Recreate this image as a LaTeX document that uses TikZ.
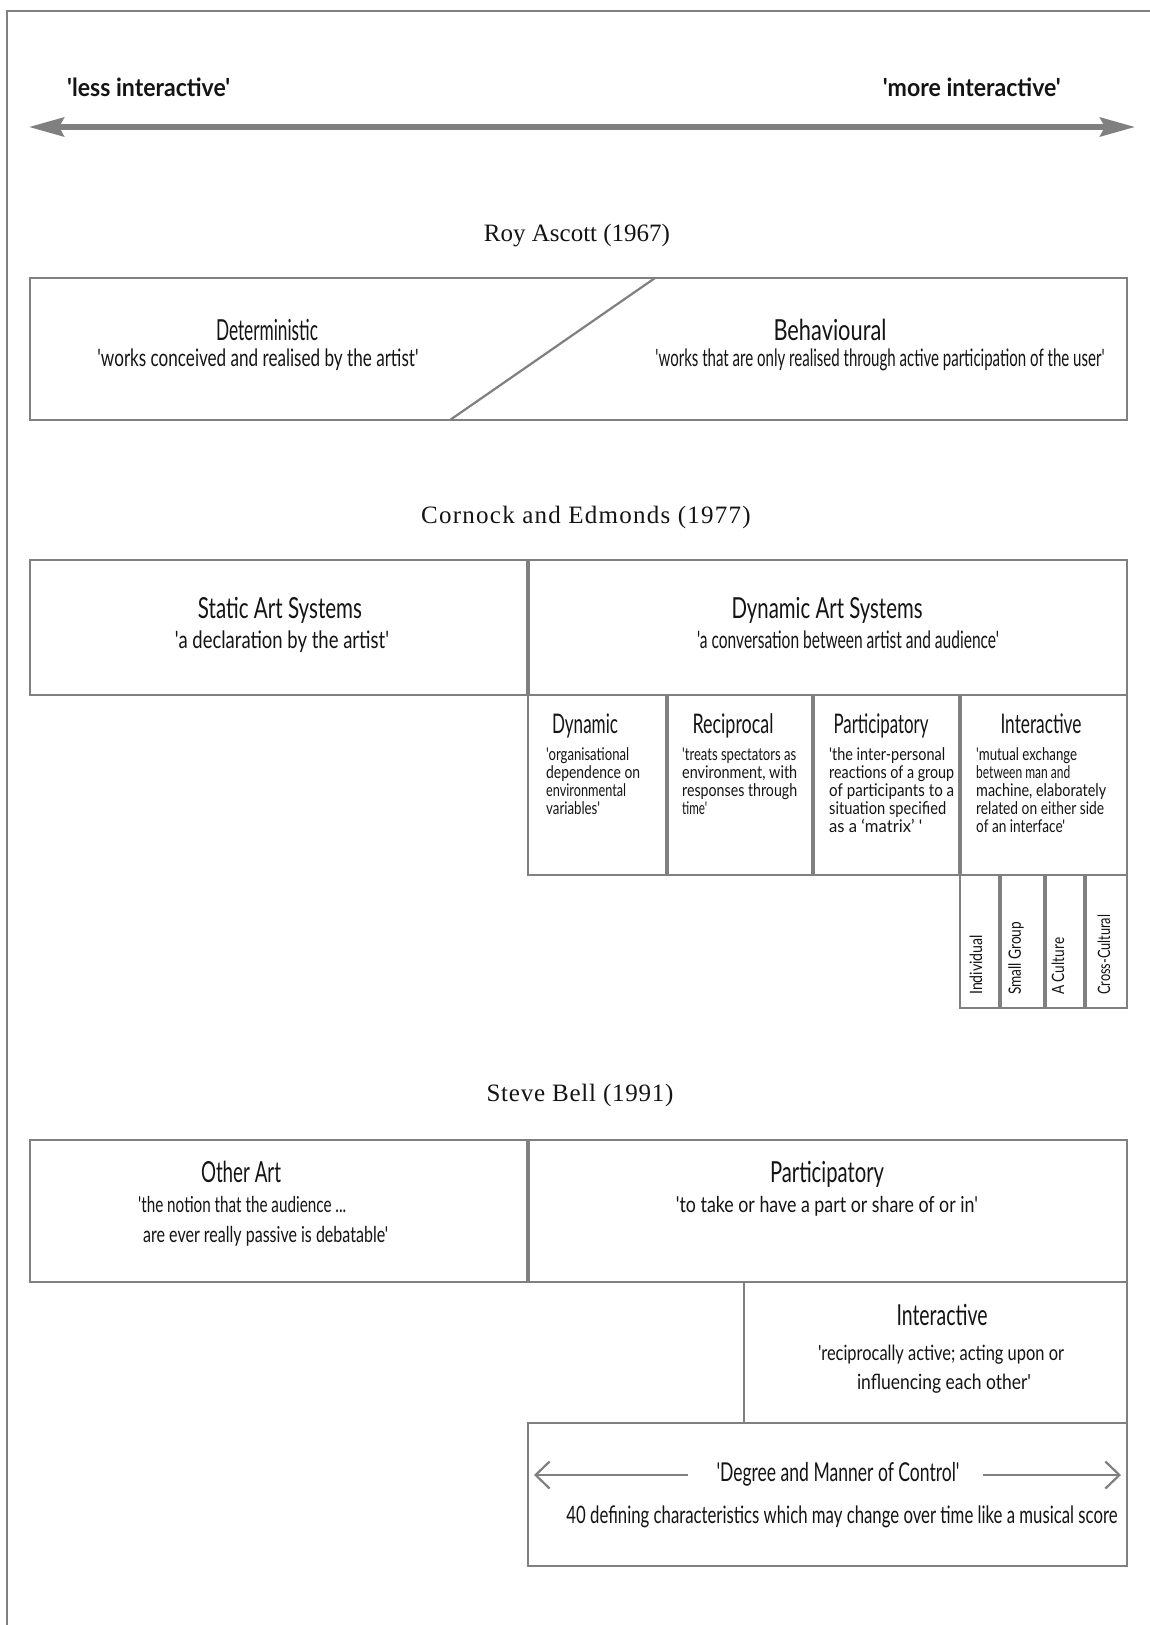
\documentclass[tikz,border=0pt]{standalone}
\usepackage{fontspec}
\usepackage{graphicx}
\usetikzlibrary{arrows.meta}
% condensed sans for labels, serif for the author lines
\newfontfamily\fut[FakeStretch=0.74]{Lato}
\newfontfamily\tms{Liberation Serif}
\definecolor{linegray}{RGB}{128,128,128}
\definecolor{ink}{RGB}{20,20,20}
% set a label to a given width, keeping its height
\newcommand{\fitto}[2]{\resizebox{#1}{\height}{#2}}
\tikzset{
  boxline/.style={draw=linegray, line width=2.2pt},
  splitline/.style={draw=linegray, line width=3.5pt},
  ttl/.style={font=\fut\fontsize{29}{32}\selectfont, text=ink, inner sep=0pt, anchor=base},
  qt/.style={font=\fut\fontsize{24}{27}\selectfont, text=ink, inner sep=0pt, anchor=base},
  smallqt/.style={font=\fut\fontsize{21}{24}\selectfont, text=ink, inner sep=0pt, anchor=base},
  subttl/.style={font=\fut\fontsize{27}{29}\selectfont, text=ink, inner sep=0pt, anchor=base},
  bodytxt/.style={font=\fut\fontsize{17.5}{18}\selectfont, text=ink, inner sep=0pt, anchor=base west},
  vtxt/.style={font=\fut\fontsize{17}{18}\selectfont, text=ink, inner sep=0pt, rotate=90, anchor=west},
  authortxt/.style={font=\tms\fontsize{25}{28}\selectfont, text=ink, inner sep=0pt, anchor=base},
  poletxt/.style={font=\fut\bfseries\fontsize{25}{28}\selectfont, text=ink, inner sep=0pt},
  scalearrow/.style={draw=linegray, line width=5.2pt, {Stealth[length=35pt,width=19pt,inset=5pt]}-{Stealth[length=35pt,width=19pt,inset=5pt]}},
  controlarrow/.style={draw=linegray, line width=2.2pt, -{Straight Barb[length=14pt,width=27pt]}},
}
\begin{document}
\begin{tikzpicture}[x=1pt, y=-1pt]
\useasboundingbox (0,0) rectangle (1149,1625);
\fill[white] (0,0) rectangle (1149,1625);

% outer frame (top and left edges)
\draw[draw=linegray, line width=2.5pt] (7,1630) -- (7,11) -- (1155,11);

% interactivity scale
\node[poletxt, anchor=base west] (less) at (67,96) {\fitto{163pt}{'less interactive'}};
\node[poletxt, anchor=base east] (more) at (1061,96) {\fitto{178pt}{'more interactive'}};
\coordinate (lessEnd) at (29,127);
\coordinate (moreEnd) at (1135,127);
\draw[scalearrow] (lessEnd) -- (moreEnd);

% ---------- Roy Ascott ----------
\node[authortxt] (ascott) at (577,241) {Roy Ascott (1967)};
\draw[boxline] (30,278) rectangle (1127,420);
\draw[boxline] (450,420) -- (655,278);
\node[ttl] (det) at (267,340) {\fitto{102pt}{Deterministic}};
\node[qt] (detq) at (258,366) {\fitto{321pt}{'works conceived and realised by the artist'}};
\node[ttl] (beh) at (830,340) {\fitto{113pt}{Behavioural}};
\node[qt] (behq) at (880,366) {\fitto{449pt}{'works that are only realised through active participation of the user'}};

% ---------- Cornock and Edmonds ----------
\node[authortxt] (cornock) at (586,523) {\addfontfeatures{LetterSpace=5}Cornock and Edmonds (1977)};
\draw[boxline] (30,560) rectangle (1127,695);
\draw[splitline] (528,560) -- (528,695);
\node[ttl] (static) at (280,618) {\fitto{164pt}{Static Art Systems}};
\node[qt] (staticq) at (282,648) {\fitto{214pt}{'a declaration by the artist'}};
\node[ttl] (dynamic) at (827,618) {\fitto{191pt}{Dynamic Art Systems}};
\node[qt] (dynamicq) at (848,648) {\fitto{302pt}{'a conversation between artist and audience'}};

% four kinds of dynamic system
\draw[boxline] (528,695) rectangle (1127,875);
\foreach \x in {667,813,960} \draw[splitline] (\x,695) -- (\x,875);
\node[subttl] (kdyn) at (585,733) {\fitto{66pt}{Dynamic}};
\node[subttl] (krec) at (733,733) {\fitto{81pt}{Reciprocal}};
\node[subttl] (kpar) at (881,733) {\fitto{95pt}{Participatory}};
\node[subttl] (kint) at (1041,733) {\fitto{81pt}{Interactive}};

\foreach \w/\t [count=\i] in {83/'organisational, 94/dependence on, 80/environmental, 54/variables'}
  \node[bodytxt] (dyn-\i) at (546,742+18*\i) {\fitto{\w pt}{\t}};
\foreach \w/\t [count=\i] in {114/'treats spectators as, 115/{environment, with}, 115/responses through, 25/time'}
  \node[bodytxt] (rec-\i) at (682,742+18*\i) {\fitto{\w pt}{\t}};
\foreach \w/\t [count=\i] in {116/'the inter-personal, 125/reactions of a group, 125/of participants to a, 117/situation specified, 93/as a ‘matrix’ '}
  \node[bodytxt] (par-\i) at (829,742+18*\i) {\fitto{\w pt}{\t}};
\foreach \w/\t [count=\i] in {101/'mutual exchange, 94/between man and, 130/{machine, elaborately}, 128/related on either side, 89/of an interface'}
  \node[bodytxt] (int-\i) at (976,742+18*\i) {\fitto{\w pt}{\t}};

% scale of the interaction
\draw[boxline] (960,875) rectangle (1127,1008);
\foreach \x in {1000,1045,1085} \draw[splitline] (\x,875) -- (\x,1008);
\node[vtxt] (sIndividual) at (976,995) {\fitto{60pt}{Individual}};
\node[vtxt] (sSmall) at (1016,995) {\fitto{73pt}{Small Group}};
\node[vtxt] (sCulture) at (1058,995) {\fitto{57pt}{A Culture}};
\node[vtxt] (sCross) at (1104,995) {\fitto{80pt}{Cross-Cultural}};

% ---------- Steve Bell ----------
\node[authortxt] (bell) at (580,1101) {\addfontfeatures{LetterSpace=3}Steve Bell (1991)};
\draw[boxline] (30,1140) rectangle (1127,1282);
\draw[splitline] (528,1140) -- (528,1282);
\node[ttl] (other) at (241,1182) {\fitto{80pt}{Other Art}};
\node[qt, anchor=base west, font=\fut\fontsize{22}{24}\selectfont] (otherq1) at (138,1212) {\fitto{208pt}{'the notion that the audience ...}};
\node[qt, anchor=base west, font=\fut\fontsize{22}{24}\selectfont] (otherq2) at (143,1242) {\fitto{245pt}{are ever really passive is debatable'}};
\node[ttl] (bpart) at (827,1182) {\fitto{114pt}{Participatory}};
\node[qt, font=\fut\fontsize{22}{24}\selectfont] (bpartq) at (827,1212) {\fitto{302pt}{'to take or have a part or share of or in'}};

\draw[boxline] (744,1282) rectangle (1127,1423);
\node[ttl] (binter) at (942,1325) {\fitto{91pt}{Interactive}};
\node[smallqt] (binterq1) at (941,1360) {\fitto{246pt}{'reciprocally active; acting upon or}};
\node[smallqt] (binterq2) at (944,1389) {\fitto{174pt}{influencing each other'}};

\draw[boxline] (528,1423) rectangle (1127,1566);
\node[qt, font=\fut\fontsize{26}{28}\selectfont] (degree) at (838,1481) {\fitto{243pt}{'Degree and Manner of Control'}};
\coordinate (ctlLeft) at (534,1475);
\coordinate (ctlRight) at (1121,1475);
\draw[controlarrow] ([xshift=-28pt]degree.west |- ctlLeft) -- (ctlLeft);
\draw[controlarrow] ([xshift=23pt]degree.east |- ctlRight) -- (ctlRight);
\node[qt, font=\fut\fontsize{24}{26}\selectfont] (score) at (842,1523) {\fitto{551pt}{40 defining characteristics which may change over time like a musical score}};
\end{tikzpicture}
\end{document}
